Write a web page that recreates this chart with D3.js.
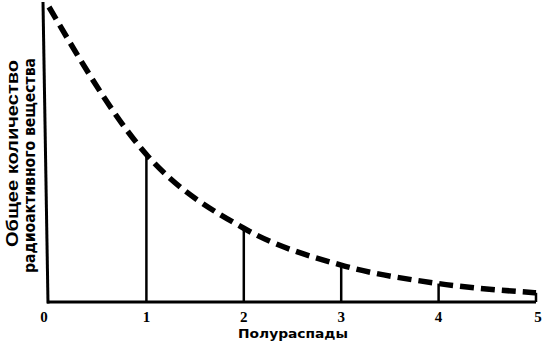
<!DOCTYPE html>
<html lang='ru'>
<head>
  <meta charset='utf-8'>
  <title>Полураспады</title>
  <script src='https://cdn.jsdelivr.net/npm/d3@7'></script>
  <style>
    body { margin: 0; background: #fff; }
  </style>
</head>
<body>
  <script>
    // data: amount left after each half-life
    let halfLives = [0, 1, 2, 3, 4, 5];
    let amounts = [1, 0.5, 0.25, 0.125, 0.0625, 0.03125];
    let tickLabels = ["0", "1", "2", "3", "4", "5"];
    let dropLines = [1, 2, 3, 4, 5];

    let width = 550, height = 352;
    let svg = d3.select("body").append("svg")
      .attr("width", width)
      .attr("height", height);

    let x = d3.scaleLinear().domain([0, 5]).range([49, 536]);
    let y = d3.scaleLinear().domain([0, 1]).range([302, 7]);

    let points = halfLives.map((h, i) => ({ h: h, v: amounts[i] }));

    // vertical lines from axis up to the curve
    svg.selectAll(".drop").data(dropLines).join("line")
      .attr("class", "drop")
      .attr("x1", d => x(d)).attr("x2", d => x(d))
      .attr("y1", y(0))
      .attr("y2", d => y(amounts[halfLives.indexOf(d)]))
      .attr("stroke", "#000")
      .attr("stroke-width", 2.5);

    // axes (the printed y axis leans a little)
    svg.append("line")
      .attr("x1", x(0) - 6).attr("x2", x(0) - 1)
      .attr("y1", 2).attr("y2", y(0) + 1.5)
      .attr("stroke", "#000").attr("stroke-width", 3);
    svg.append("line")
      .attr("x1", x(0) - 2).attr("x2", x(5))
      .attr("y1", y(0)).attr("y2", y(0))
      .attr("stroke", "#000").attr("stroke-width", 3);

    // dashed decay curve
    let line = d3.line()
      .x(d => x(d.h))
      .y(d => y(d.v))
      .curve(d3.curveMonotoneX);
    svg.append("path")
      .datum(points)
      .attr("d", line)
      .attr("fill", "none")
      .attr("stroke", "#000")
      .attr("stroke-width", 5.5)
      .attr("stroke-dasharray", "14,7");

    // tick labels
    svg.selectAll(".tick").data(halfLives).join("text")
      .attr("class", "tick")
      .attr("x", (d, i) => x(d) - (i === 0 ? 5 : 0) + (i === 5 ? 2 : 0))
      .attr("y", 322)
      .attr("text-anchor", "middle")
      .style("font-family", "'Liberation Serif', serif")
      .style("font-weight", "bold")
      .style("font-size", "15px")
      .text((d, i) => tickLabels[i]);

    // x title
    svg.append("text")
      .attr("x", 293).attr("y", 338)
      .attr("text-anchor", "middle")
      .attr("textLength", 110)
      .attr("lengthAdjust", "spacingAndGlyphs")
      .style("font-family", "'DejaVu Sans', sans-serif")
      .style("font-weight", "bold")
      .style("font-size", "12px")
      .text("Полураспады");

    // y title, two lines
    let yTitle = svg.append("g")
      .attr("transform", "rotate(-90)");
    yTitle.append("text")
      .attr("x", -153.5).attr("y", 18)
      .attr("text-anchor", "middle")
      .attr("textLength", 187)
      .attr("lengthAdjust", "spacingAndGlyphs")
      .style("font-family", "'Liberation Sans', Arial, sans-serif")
      .style("font-weight", "bold")
      .style("font-size", "16px")
      .text("Общее количество");
    yTitle.append("text")
      .attr("x", -165.5).attr("y", 35)
      .attr("text-anchor", "middle")
      .attr("textLength", 215)
      .attr("lengthAdjust", "spacingAndGlyphs")
      .style("font-family", "'Liberation Sans Narrow', 'DejaVu Sans Condensed', sans-serif")
      .style("font-weight", "bold")
      .style("font-size", "15px")
      .text("радиоактивного вещества");
  </script>
</body>
</html>
